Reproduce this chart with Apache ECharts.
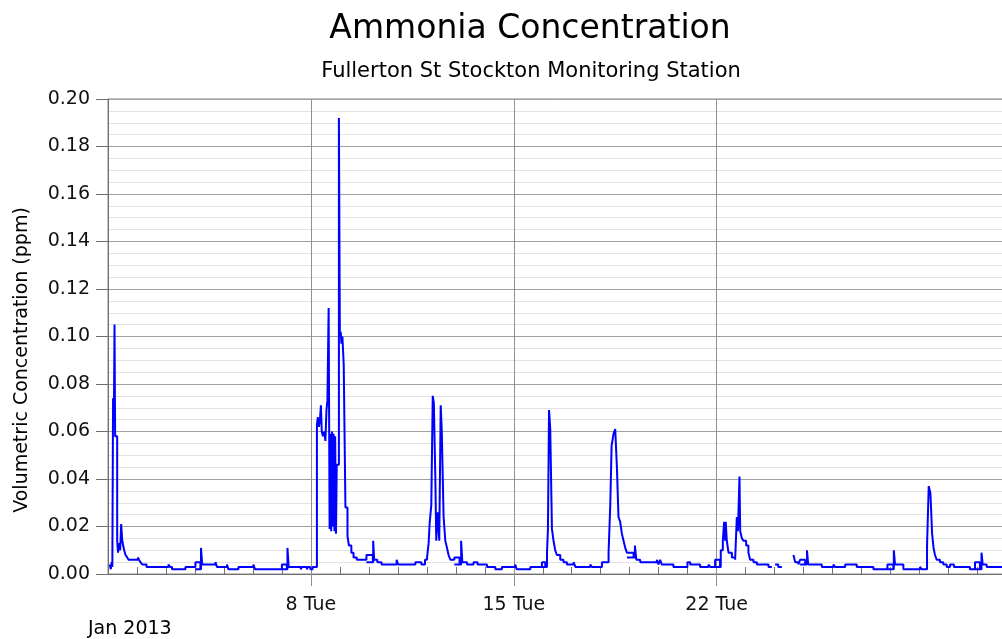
<!DOCTYPE html>
<html><head><meta charset="utf-8">
<script src="https://cdn.jsdelivr.net/npm/echarts@6/dist/echarts.min.js"></script>
<style>html,body{margin:0;padding:0;background:#fff}#c{width:1002px;height:639px}</style>
</head><body><div id="c"></div>
<script>
const chartTitle = 'Ammonia Concentration';
const chartSubtitle = 'Fullerton St Stockton Monitoring Station';
const yAxisTitle = 'Volumetric Concentration (ppm)';
const monthLabel = 'Jan 2013';
const yTickValues = [0, 0.02, 0.04, 0.06, 0.08, 0.10, 0.12, 0.14, 0.16, 0.18, 0.20];
const weekTickHours = [168, 336, 504];
const weekTickLabels = ['8 Tue', '15 Tue', '22 Tue'];

// hours since 1 Jan 2013 00:00 at which the reading changes (step chart)
const timeHours = [
  1.5, 2.3, 3.0, 3.6, 4.2, 4.6, 5.0, 5.4, 5.9, 7.6, 8.3, 9.1, 10.1, 10.9, 11.8, 12.6, 13.4, 14.5, 15.9, 17.0,
  24.8, 25.6, 26.9, 28.3, 31.9, 50.1, 51.3, 53.0, 64.1, 72.4, 76.5, 72.4, 77.0, 78.0, 89.0, 90.2, 98.5, 99.7,
  108.0, 120.4, 121.7, 144.0, 148.1, 144.0, 148.6, 149.6, 159.6, 160.5, 164.7, 165.5, 167.5, 169.5,
  173.0, 173.8, 174.6, 175.5, 176.3, 177.0, 178.0, 179.2, 180.0, 180.9, 181.7, 182.7, 183.5, 184.1, 184.8,
  185.5, 186.1, 186.8, 187.5, 188.1, 188.8, 189.4, 191.2, 192.0, 192.7, 193.3, 194.1, 195.2, 196.6, 198.3,
  199.5, 201.5, 203.3, 206.0, 214.0, 219.3, 214.0, 219.6, 220.4, 223.0, 226.5, 239.0, 240.2, 250.0, 254.5,
  259.5, 262.5, 264.2,
  265.5, 266.3, 267.7, 268.9, 269.8, 271.0, 271.8, 272.9, 274.3, 275.5, 276.4, 277.9, 279.3, 280.7, 282.0,
  283.5, 286.8, 291.1, 286.8, 292.4, 293.4, 297.3, 302.7, 306.0, 313.8, 320.7, 326.2, 337.2, 338.4, 349.7,
  359.3, 362.1, 359.3, 363.5, 364.3, 365.2, 366.2, 367.6, 368.9, 370.3, 371.7, 374.5, 377.2, 380.0, 385.5,
  387.0, 399.3, 400.7, 409.0, 414.5, 415.9, 417.0, 418.6, 420.0, 421.4, 422.7, 424.1, 425.5, 426.9, 428.3,
  429.7, 435.2, 429.7, 436.3, 437.5, 440.7, 454.5, 455.8, 457.2, 458.5, 468.2,
  479.8, 482.1, 490.3, 497.2, 498.6, 502.7, 506.8, 502.7, 507.4, 509.1, 510.2, 511.0, 511.5, 512.4, 513.8,
  516.6, 519.3, 520.7, 521.6, 522.9, 523.5, 524.9, 526.2, 528.4, 530.3, 531.7, 534.5, 537.3, 546.9, 549.7,
  550.0, 552.4, 555.0, 558.0, 558.3, 567.6, 569.0, 571.7, 573.1, 577.3, 573.1, 578.8, 579.8, 591.1, 600.7,
  601.9, 610.4, 620.0, 633.8, 645.4, 650.3, 645.4, 650.7, 651.7, 658.6, 672.4, 673.6, 678.2, 679.6, 681.0,
  682.4, 683.6, 684.8, 686.2, 688.9, 691.7, 694.5, 697.2, 700.5, 713.7, 717.9, 722.0, 717.9, 723.3, 724.3,
  727.6, 745.0
];
// ammonia concentration (ppm) from each change time onward; null = missing data
const ammoniaPpm = [
  0.004, 0.002, 0.005, 0.003, 0.074, 0.067, 0.075, 0.105, 0.058, 0.014, 0.009, 0.013, 0.010, 0.021, 0.014, 0.012, 0.010, 0.008, 0.007, 0.006,
  0.007, 0.006, 0.005, 0.004, 0.003, 0.004, 0.003, 0.002, 0.003, 0.005, 0.002, 0.002, 0.011, 0.004, 0.005, 0.003, 0.004, 0.002,
  0.003, 0.004, 0.002, 0.004, 0.002, 0.002, 0.011, 0.003, 0.002, 0.003, 0.002, 0.003, 0.002, 0.003,
  0.063, 0.066, 0.062, 0.065, 0.071, 0.060, 0.058, 0.060, 0.056, 0.069, 0.073, 0.112, 0.019, 0.059, 0.018,
  0.060, 0.020, 0.059, 0.018, 0.058, 0.017, 0.046, 0.192, 0.100, 0.102, 0.097, 0.100, 0.088, 0.028, 0.016,
  0.012, 0.009, 0.007, 0.006, 0.008, 0.005, 0.005, 0.014, 0.006, 0.005, 0.004, 0.006, 0.004, 0.004, 0.005,
  0.004, 0.006, 0.007,
  0.013, 0.021, 0.029, 0.075, 0.072, 0.042, 0.014, 0.026, 0.014, 0.071, 0.060, 0.024, 0.014, 0.011, 0.008,
  0.006, 0.007, 0.004, 0.004, 0.014, 0.005, 0.004, 0.005, 0.004, 0.003, 0.002, 0.003, 0.004, 0.002, 0.003,
  0.005, 0.003, 0.003, 0.009, 0.019, 0.069, 0.061, 0.019, 0.014, 0.010, 0.008, 0.006, 0.005, 0.004, 0.005,
  0.003, 0.004, 0.003, 0.005, 0.009, 0.029, 0.054, 0.059, 0.061, 0.045, 0.024, 0.022, 0.017, 0.014, 0.011,
  0.009, 0.007, 0.007, 0.012, 0.006, 0.005, 0.006, 0.004, 0.006, 0.004, 0.003,
  0.005, 0.004, 0.003, 0.004, 0.003, 0.006, 0.003, 0.003, 0.010, 0.014, 0.022, 0.014, 0.022, 0.014, 0.009,
  0.007, 0.006, 0.024, 0.018, 0.041, 0.018, 0.015, 0.014, 0.012, 0.009, 0.006, 0.005, 0.004, 0.003, 0.003,
  null, 0.004, 0.003, 0.003, null, 0.008, 0.005, 0.004, 0.006, 0.004, 0.004, 0.010, 0.004, 0.003, 0.004,
  0.003, 0.004, 0.003, 0.002, 0.004, 0.002, 0.002, 0.010, 0.004, 0.002, 0.003, 0.002, 0.012, 0.037, 0.034,
  0.017, 0.011, 0.008, 0.006, 0.005, 0.004, 0.003, 0.004, 0.003, 0.002, 0.005, 0.002, 0.002, 0.009, 0.004,
  0.003, 0.003
];

const FONT = '"DejaVu Sans", sans-serif';
const seriesData = timeHours.map((t, i) => [t, ammoniaPpm[i]]);

const chart = echarts.init(document.getElementById('c'), null, { renderer: 'canvas' });
chart.setOption({
  animation: false,
  backgroundColor: '#ffffff',
  grid: {
    left: 108, top: 99, width: 898.5, height: 475,
    containLabel: false, outerBoundsMode: 'none',
    show: true, borderColor: '#8a8a8a', borderWidth: 1, backgroundColor: 'transparent'
  },
  xAxis: [
    {
      type: 'value', min: 0, max: 744, interval: 24, position: 'bottom',
      axisLine: { show: true, lineStyle: { color: '#707070', width: 1 } },
      axisTick: { show: true, inside: true, length: 7, lineStyle: { color: '#707070' } },
      axisLabel: { show: false },
      splitLine: { show: false }
    },
    {
      type: 'value', min: 0, max: 744, position: 'bottom',
      axisLine: { show: false },
      axisTick: { show: true, inside: false, length: 12, customValues: weekTickHours, lineStyle: { color: '#909090' } },
      axisLabel: {
        show: true, customValues: weekTickHours, margin: 22,
        fontFamily: FONT, fontSize: 19, color: '#111',
        formatter: v => { const i = weekTickHours.indexOf(v); return i >= 0 ? weekTickLabels[i] : ''; }
      },
      splitLine: { show: false }
    }
  ],
  yAxis: {
    type: 'value', min: yTickValues[0], max: yTickValues[yTickValues.length - 1], interval: 0.02,
    axisLine: { show: true, lineStyle: { color: '#707070', width: 1 } },
    axisTick: { show: true, inside: false, length: 12, lineStyle: { color: '#707070' } },
    axisLabel: { margin: 18, fontFamily: FONT, fontSize: 19, color: '#111', formatter: v => v.toFixed(2) },
    splitLine: { show: true, lineStyle: { color: '#a0a0a0', width: 1 } },
    minorTick: { show: false, splitNumber: 4 },
    minorSplitLine: { show: true, lineStyle: { color: '#e2e2e2', width: 1 } }
  },
  series: [{
    type: 'line',
    xAxisIndex: 0, yAxisIndex: 0,
    data: seriesData,
    step: 'end',
    showSymbol: false,
    connectNulls: false,
    z: 3,
    lineStyle: { color: '#0000ff', width: 2 },
    markLine: {
      z: 1, silent: true, symbol: 'none', animation: false,
      label: { show: false },
      lineStyle: { color: '#909090', width: 1, type: 'solid' },
      emphasis: { disabled: true },
      data: weekTickHours.map(h => ({ xAxis: h }))
    }
  }],
  graphic: [
    { type: 'text', x: 530, y: 29, style: { text: chartTitle, fontFamily: FONT, fontSize: 33, fill: '#000', align: 'center', verticalAlign: 'middle' } },
    { type: 'text', x: 531, y: 72, style: { text: chartSubtitle, fontFamily: FONT, fontSize: 21, fill: '#000', align: 'center', verticalAlign: 'middle' } },
    { type: 'text', x: 22, y: 360, rotation: Math.PI / 2, style: { text: yAxisTitle, fontFamily: FONT, fontSize: 19, fill: '#000', align: 'center', verticalAlign: 'middle' } },
    { type: 'text', x: 88, y: 629, style: { text: monthLabel, fontFamily: FONT, fontSize: 19, fill: '#000', align: 'left', verticalAlign: 'middle' } }
  ]
});
</script>
</body></html>
